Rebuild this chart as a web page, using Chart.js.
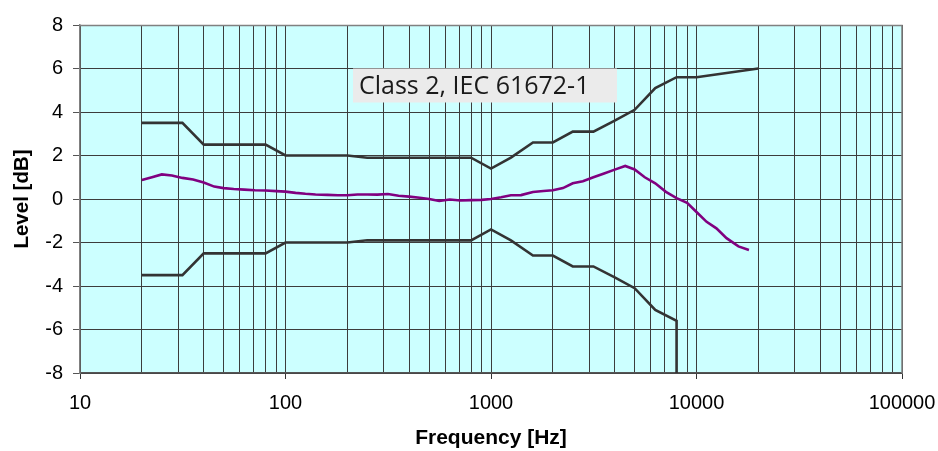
<!DOCTYPE html>
<html>
<head>
<meta charset="utf-8">
<script src="https://cdn.jsdelivr.net/npm/chart.js@4.4.1/dist/chart.umd.min.js"></script>
<style>
  html, body { margin: 0; padding: 0; background: #ffffff; }
  #wrap { width: 938px; height: 451px; position: relative; }
</style>
</head>
<body>
<div id="wrap"><canvas id="c" width="938" height="451"></canvas></div>
<script>
// ---- Data ----
const limitFreqs = [20, 31.5, 40, 50, 63, 80, 100, 125, 160, 200, 250, 315, 400, 500, 630, 800, 1000, 1250, 1600, 2000, 2500, 3150, 4000, 5000, 6300, 8000, 10000, 20000];
const upperLimit = [3.5, 3.5, 2.5, 2.5, 2.5, 2.5, 2.0, 2.0, 2.0, 2.0, 1.9, 1.9, 1.9, 1.9, 1.9, 1.9, 1.4, 1.9, 2.6, 2.6, 3.1, 3.1, 3.6, 4.1, 5.1, 5.6, 5.6, 6.0];
const lowerFreqs = [20, 31.5, 40, 50, 63, 80, 100, 125, 160, 200, 250, 315, 400, 500, 630, 800, 1000, 1250, 1600, 2000, 2500, 3150, 4000, 5000, 6300, 8000, 8000];
const lowerLimit = [-3.5, -3.5, -2.5, -2.5, -2.5, -2.5, -2.0, -2.0, -2.0, -2.0, -1.9, -1.9, -1.9, -1.9, -1.9, -1.9, -1.4, -1.9, -2.6, -2.6, -3.1, -3.1, -3.6, -4.1, -5.1, -5.6, -8];

const respFreqs = [20, 22.4, 25, 28, 31.5, 35.5, 40, 45, 50, 56, 63, 71, 80, 90, 100, 112, 125, 140, 160, 180, 200, 224, 250, 280, 315, 355, 400, 450, 500, 560, 630, 710, 800, 900, 1000, 1120, 1250, 1400, 1600, 1800, 2000, 2240, 2500, 2800, 3150, 3550, 4000, 4500, 5000, 5600, 6300, 7100, 8000, 9000, 10000, 11200, 12500, 14000, 16000, 18000];
const respLevel = [0.87, 1.0, 1.13, 1.08, 0.97, 0.9, 0.76, 0.57, 0.5, 0.46, 0.43, 0.40, 0.39, 0.36, 0.34, 0.28, 0.24, 0.21, 0.19, 0.17, 0.17, 0.21, 0.21, 0.20, 0.23, 0.15, 0.11, 0.06, 0.0, -0.09, -0.02, -0.07, -0.05, -0.04, 0.0, 0.08, 0.17, 0.18, 0.32, 0.37, 0.40, 0.5, 0.72, 0.82, 1.0, 1.17, 1.35, 1.52, 1.36, 1.0, 0.72, 0.33, 0.04, -0.18, -0.6, -1.05, -1.35, -1.8, -2.18, -2.34];

const xDecades = [10, 100, 1000, 10000, 100000];
const yTicks = [-8, -6, -4, -2, 0, 2, 4, 6, 8];
const annotationText = 'Class 2, IEC 61672-1';

function pts(xs, ys) { return xs.map((x, i) => ({ x: x, y: ys[i] })); }

// gridline positions: decades plus 2..9 multiples
const xGridVals = [];
for (let d = 0; d < xDecades.length; d++) {
  xGridVals.push(xDecades[d]);
  if (d < xDecades.length - 1) for (let m = 2; m <= 9; m++) xGridVals.push(xDecades[d] * m);
}

const bgPlugin = {
  id: 'bg',
  beforeDraw(chart) {
    const { ctx, chartArea: a } = chart;
    ctx.save();
    ctx.fillStyle = '#CCFFFF';
    ctx.fillRect(a.left, a.top, a.right - a.left, a.bottom - a.top);
    ctx.restore();
  },
  afterDraw(chart) {
    const { ctx, chartArea: a } = chart;
    ctx.save();
    ctx.strokeStyle = '#808080';
    ctx.lineWidth = 1.5;
    ctx.beginPath();
    ctx.moveTo(a.left, a.top + 0.5);
    ctx.lineTo(a.right, a.top + 0.5);
    ctx.lineTo(a.right, a.bottom);
    ctx.stroke();
    ctx.restore();
  }
};

const notePlugin = {
  id: 'note',
  afterDatasetsDraw(chart) {
    const { ctx, chartArea: a, scales } = chart;
    const top = scales.y.getPixelForValue(6);
    const left = a.left + 273;
    const w = 264, h = 34;
    ctx.save();
    ctx.fillStyle = '#EBEBEB';
    ctx.fillRect(left, top, w, h);
    ctx.fillStyle = '#1a1a1a';
    ctx.font = '25px "Open Sans", "Noto Sans", sans-serif';
    ctx.textBaseline = 'middle';
    ctx.textAlign = 'left';
    ctx.fillText(annotationText, left + 6, top + h / 2 + 1);
    ctx.restore();
  }
};

new Chart(document.getElementById('c'), {
  type: 'line',
  data: {
    datasets: [
      { data: pts(limitFreqs, upperLimit), borderColor: '#333333', borderWidth: 2.6, pointRadius: 0, tension: 0, fill: false },
      { data: pts(lowerFreqs, lowerLimit), borderColor: '#333333', borderWidth: 2.6, pointRadius: 0, tension: 0, fill: false },
      { data: pts(respFreqs, respLevel), borderColor: '#800080', borderWidth: 2.6, pointRadius: 0, tension: 0, fill: false }
    ]
  },
  options: {
    responsive: false,
    animation: false,
    devicePixelRatio: 1,
    layout: { padding: { left: 0, right: 36, top: 25, bottom: 0 } },
    plugins: { legend: { display: false }, tooltip: { enabled: false } },
    scales: {
      x: {
        type: 'logarithmic',
        min: 10, max: 100000,
        afterFit(s) { s.height = 78; s.paddingLeft = 0; s.paddingRight = 0; },
        afterBuildTicks(s) { s.ticks = xGridVals.map(v => ({ value: v, major: xDecades.includes(v) })); },
        ticks: {
          autoSkip: false, maxRotation: 0, minRotation: 0, padding: 12,
          color: '#000', font: { family: '"Liberation Sans", Arial, sans-serif', size: 20 },
          callback: (v) => xDecades.includes(v) ? String(v) : ''
        },
        grid: {
          color: '#3c3c3c', lineWidth: 1, tickLength: 6,
          tickColor: (c) => (c.tick && xDecades.includes(c.tick.value)) ? '#333333' : 'rgba(0,0,0,0)'
        },
        border: { display: true, color: '#555555', width: 1.5 },
        title: {
          display: true, text: 'Frequency [Hz]', color: '#000',
          font: { family: '"Liberation Sans", Arial, sans-serif', size: 21, weight: 'bold' },
          padding: { top: 0, bottom: 0 }
        }
      },
      y: {
        type: 'linear',
        min: -8, max: 8,
        afterFit(s) { s.width = 80; s.paddingTop = 0; s.paddingBottom = 0; },
        afterBuildTicks(s) { s.ticks = yTicks.map(v => ({ value: v })); },
        ticks: {
          padding: 10, color: '#000',
          font: { family: '"Liberation Sans", Arial, sans-serif', size: 20 },
          callback: (v) => String(v)
        },
        grid: { color: '#3c3c3c', lineWidth: 1, tickLength: 7, tickColor: '#555555' },
        border: { display: true, color: '#808080', width: 1.5 },
        title: {
          display: true, text: 'Level [dB]', color: '#000',
          font: { family: '"Liberation Sans", Arial, sans-serif', size: 20.5, weight: 'bold' },
          padding: { top: 10, bottom: 0 }
        }
      }
    }
  },
  plugins: [bgPlugin, notePlugin]
});
</script>
</body>
</html>
